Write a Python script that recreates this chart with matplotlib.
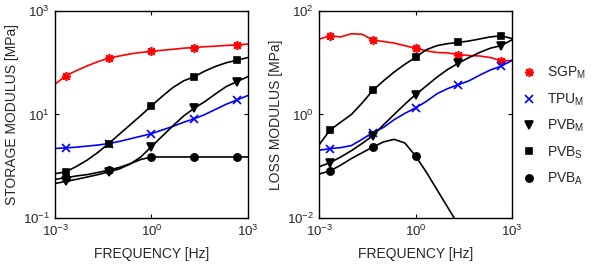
import matplotlib
matplotlib.use('Agg')
import matplotlib.pyplot as plt

plt.rcParams['font.family'] = ['Liberation Sans', 'DejaVu Sans']
plt.rcParams['mathtext.fontset'] = 'custom'
plt.rcParams['mathtext.rm'] = 'Liberation Sans'
plt.rcParams['mathtext.it'] = 'Liberation Sans'

# frequency grid [Hz], markers drawn on every 4th point
freq = [0.001, 0.00215, 0.00464, 0.01, 0.0215, 0.0464, 0.1, 0.215, 0.464,
        1.0, 2.15, 4.64, 10.0, 21.5, 46.4, 100.0, 215.0, 464.0, 1000.0]

# storage modulus [MPa]
sgp_storage = [38.9, 56.2, 70.8, 87.1, 105, 123, 135, 148, 158, 166, 174, 182,
               191, 197, 204, 209, 216, 222, 229]
tpu_storage = [2.21, 2.26, 2.34, 2.45, 2.57, 2.75, 3.02, 3.39, 3.8, 4.27, 5.01,
               5.89, 7.08, 8.26, 10.0, 12.6, 15.8, 19.1, 23.2]
pvbm_storage = [0.465, 0.51, 0.56, 0.62, 0.69, 0.78, 0.89, 1.1, 1.51, 2.4, 3.8,
                6.03, 9.33, 13.2, 17.8, 25.1, 34.7, 43.2, 53.7]
pvbs_storage = [0.72, 0.78, 1.0, 1.32, 1.86, 2.75, 4.17, 6.3, 9.55, 14.7, 22.4,
                33.1, 44.7, 53.7, 69.2, 85.1, 100, 112, 126]
pvba_storage = [0.56, 0.60, 0.65, 0.69, 0.76, 0.84, 0.95, 1.12, 1.35, 1.51, 1.51,
                1.51, 1.51, 1.51, 1.51, 1.51, 1.51, 1.51, 1.51]

# loss modulus [MPa]
sgp_loss = [28.6, 33.1, 31.6, 36.3, 35.5, 27.5, 25.7, 24.0, 21.4, 19.1, 17.0,
            15.8, 15.5, 14.4, 13.8, 13.5, 12.6, 11.0, 11.0]
tpu_loss = [0.204, 0.219, 0.229, 0.251, 0.331, 0.447, 0.562, 0.794, 1.05, 1.34,
            1.78, 2.51, 3.16, 3.76, 4.47, 5.75, 7.24, 8.57, 11.0]
pvbm_loss = [0.098, 0.117, 0.151, 0.2, 0.275, 0.389, 0.631, 1.0, 1.58, 2.42, 3.55,
             5.25, 7.41, 9.77, 12.6, 15.8, 19.1, 21.4, 27.5]
pvbs_loss = [0.263, 0.50, 0.71, 1.0, 1.66, 2.92, 4.47, 6.61, 9.33, 12.7, 17.8,
             21.4, 23.4, 24.7, 26.3, 28.8, 31.6, 33.1, 29.5]
pvba_loss = [0.0708, 0.0813, 0.105, 0.141, 0.182, 0.234, 0.295, 0.331, 0.282,
             0.158, 0.0776, 0.0355, 0.0162, 0.0074, 0.0034]

labels = ['SGP$_\\mathregular{M}$', 'TPU$_\\mathregular{M}$', 'PVB$_\\mathregular{M}$',
          'PVB$_\\mathregular{S}$', 'PVB$_\\mathregular{A}$']
colors = ['#ff0000', '#0000ff', 'k', 'k', 'k']
markers = [(8, 2, 0), 'x', 'v', 's', 'o']
msizes = [6.5, 5.5, 5.5, 4.5, 5.2]

storage = [sgp_storage, tpu_storage, pvbm_storage, pvbs_storage, pvba_storage]
loss = [sgp_loss, tpu_loss, pvbm_loss, pvbs_loss, pvba_loss]

txt = '#262626'

fig = plt.figure(figsize=(5.99, 2.70), dpi=100)
ax1 = fig.add_axes([0.0923, 0.1926, 0.3212, 0.7667])
ax2 = fig.add_axes([0.5331, 0.1926, 0.3212, 0.7667])


def draw(ax, series, ylim, ylabel):
    for i, y in enumerate(series):
        ax.plot(freq[:len(y)], y, color=colors[i], lw=1.2, marker=markers[i],
                ms=msizes[i], mew=1.2, markevery=(1, 4), label=labels[i])
    ax.set_xscale('log')
    ax.set_yscale('log')
    ax.set_xlim(1e-3, 1e3)
    ax.set_ylim(*ylim)
    ax.set_xticks([1e-3, 1e0, 1e3])
    ax.set_yticks([ylim[0], (ylim[0] * ylim[1]) ** 0.5, ylim[1]])
    ax.minorticks_off()
    ax.tick_params(direction='in', length=3, width=0.8, top=True, right=True,
                   labelsize=9.5, pad=4, labelcolor=txt)
    for s in ax.spines.values():
        s.set_linewidth(1.0)
    ax.set_xlabel('FREQUENCY [Hz]', fontsize=10, color=txt, labelpad=6)
    ax.set_ylabel(ylabel, fontsize=10, color=txt, labelpad=3)


draw(ax1, storage, (1e-1, 1e3), 'STORAGE MODULUS [MPa]')
draw(ax2, loss, (1e-2, 1e2), 'LOSS MODULUS [MPa]')

h, l = ax1.get_legend_handles_labels()
leg = fig.legend(h, l, loc='center left', bbox_to_anchor=(0.862, 0.533), frameon=False,
                 fontsize=10, handlelength=1.0, handletextpad=0.8, labelspacing=0.72,
                 borderaxespad=0, numpoints=1)
for line in leg.get_lines():
    line.set_linestyle('none')
for t in leg.get_texts():
    t.set_color(txt)

fig.savefig('out.png', dpi=100)
